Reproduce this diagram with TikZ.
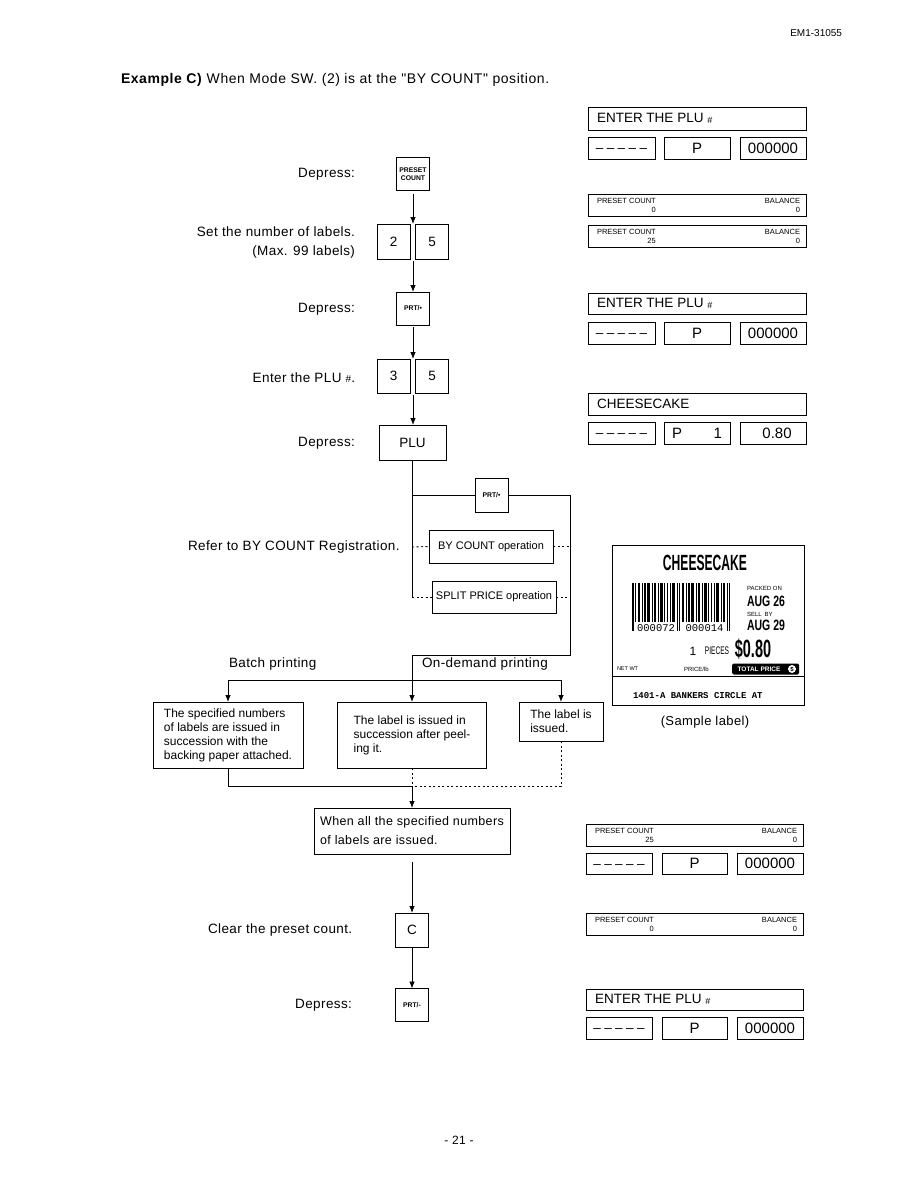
\documentclass[tikz,border=0pt]{standalone}
\usepackage{fontspec}
\setmainfont{Liberation Sans}
\newfontfamily\spc{Liberation Sans}[LetterSpace=3]
\newfontfamily\spcb{Liberation Sans}[LetterSpace=4]
\newfontfamily\lmono{Liberation Mono}
\usepackage{graphicx}
\usetikzlibrary{arrows.meta}
\newcommand\fsz[2]{\fontsize{#1}{#2}\selectfont}
\newcommand\dsh{\vphantom{0}\textendash\hspace{3.4pt}\textendash\hspace{3.4pt}\textendash\hspace{3.4pt}\textendash\hspace{3.4pt}\textendash}
\newcommand\presetdisp[5]{%
  \node[disp,minimum width=#5,minimum height=22,anchor=north west] (#1) at (#2,#3) {};
  \node[stext,anchor=base west] (#1a) at ([shift={(9,9)}]#1.north west) {PRESET COUNT};
  \node[stext,anchor=base east] (#1b) at ([shift={(0,9)}]#1a.base east) {#4};
  \node[stext,anchor=base east] (#1c) at ([shift={(-6,9)}]#1.north east) {BALANCE};
  \node[stext,anchor=base east] (#1d) at ([shift={(0,9)}]#1c.base east) {0};
}
\begin{document}
\begin{tikzpicture}[x=1pt,y=-1pt,
  every node/.style={inner sep=0pt,outer sep=0pt},
  lab/.style={font=\spc\fsz{13.5}{16}},
  keybox/.style={draw,line width=0.7pt,minimum width=33,minimum height=33,font=\fsz{13.5}{15}},
  smallkey/.style={keybox,font=\fsz{6.8}{8}\bfseries,align=center},
  flow/.style={line width=0.8pt},
  arr/.style={flow,-{Latex[length=7pt,width=5.5pt]}},
  dotl/.style={line width=0.9pt,dash pattern=on 2pt off 2.5pt},
  disp/.style={draw,line width=0.9pt},
  dtext/.style={font=\fsz{13.5}{15}},
  dnum/.style={font=\fsz{15}{16}},
  stext/.style={font=\fsz{7.5}{8}},
  fbox/.style={draw,line width=0.7pt,align=left,font=\fsz{12}{14}},
  opbox/.style={draw,line width=0.7pt,minimum width=124,font=\fsz{11}{13}},
]
\useasboundingbox (0,0) rectangle (918,1188);
\fill[white] (0,0) rectangle (918,1188);

% header
\node[anchor=east,font=\fsz{10}{11}] (docno) at (842,33) {EM1-31055};
\node[anchor=west,font=\spcb\fsz{14}{16}] (title) at (121,80) {\textbf{Example C)} When Mode SW. (2) is at the "BY COUNT" position.};

% key sequence
\node[smallkey] (kpc) at (413,174) {PRESET\\COUNT};
\node[keybox,minimum height=35] (k2) at (393.5,241.5) {2};
\node[keybox,minimum height=35] (k5) at (432,241.5) {5};
\coordinate (g25t) at (413,224);
\coordinate (g25b) at (413,259);
\node[smallkey] (kprt1) at (413,308.5) {PRT/\textbullet};
\node[keybox,minimum height=34] (k3) at (393.5,376) {3};
\node[keybox,minimum height=34] (k5b) at (432,376) {5};
\coordinate (g35t) at (413,359);
\coordinate (g35b) at (413,393);
\node[keybox,minimum width=67,minimum height=35] (kplu) at (412.5,442.5) {PLU};

\draw[arr,shorten <=3pt] (kpc.south) -- (g25t);
\draw[arr,shorten <=2pt] (g25b) -- (kprt1.north);
\draw[arr,shorten <=2pt] (kprt1.south) -- (g35t);
\draw[arr,shorten <=2pt] (g35b) -- (kplu.north -| g35b);

\node[lab,anchor=east] (t1) at (355,174) {Depress:};
\node[lab,anchor=east] (t2) at (355,232) {Set the number of labels.};
\node[lab,anchor=east] (t3) at (355,252) {(Max. 99 labels)};
\node[lab,anchor=east] (t4) at (355,309) {Depress:};
\node[lab,anchor=east] (t5) at (355,378) {Enter the PLU {\fsz{10}{10}\#}.};
\node[lab,anchor=east] (t6) at (355,443) {Depress:};

% branch
\coordinate (j1) at (412,495);
\coordinate (j2) at (412,547);
\coordinate (j3) at (412,597);
\coordinate (r1) at (570,495);
\coordinate (r2) at (570,655);
\coordinate (m1) at (412,655);
\coordinate (m2) at (412,680);
\node[smallkey,minimum height=34] (kprt2) at (491.5,495) {PRT/\textbullet};
\node[opbox,minimum height=33] (byc) at (491,546.5) {BY COUNT operation};
\node[opbox,minimum height=32] (spl) at (494,597) {SPLIT PRICE opreation};
\draw[flow] (kplu.south -| j3) -- (j3);
\draw[flow] (j1) -- (kprt2.west);
\draw[flow] (kprt2.east) -- (r1) -- (r2) -- (m1) -- (m2);
\draw[dotl] (j2) -- (byc.west);
\draw[dotl] (j3) -- (spl.west);
\draw[dotl] (byc.east) -- (byc.east -| r1);
\draw[dotl] (spl.east) -- (spl.east -| r1);

\node[lab,anchor=west] (t7) at (188,547) {Refer to BY COUNT Registration.};
\node[lab,anchor=west] (t8) at (229,664) {Batch printing};
\node[lab,anchor=west] (t9) at (422,664) {On-demand printing};

% result boxes
\node[fbox,minimum width=150,minimum height=66] (bx1) at (228,735) {The specified numbers\\of labels are issued in\\succession with the\\backing paper attached.};
\node[fbox,minimum width=149,minimum height=66] (bx2) at (412,735) {The label is issued in\\succession after peel-\\ing it.};
\node[fbox,minimum width=84,minimum height=39] (bx3) at (561,721.5) {The label is\\issued.};
\coordinate (m3) at (412,786);
\draw[flow] (bx1.north |- m2) -- (bx3.north |- m2);
\draw[arr] (m2) -- (bx2.north);
\draw[arr] (bx1.north |- m2) -- (bx1.north);
\draw[arr] (bx3.north |- m2) -- (bx3.north);
\draw[flow] (bx1.south) -- (bx1.south |- m3) -- (m3);
\draw[dotl] (bx2.south) -- (m3);
\draw[dotl] (bx3.south) -- (bx3.south |- m3) -- (m3);
\node[fbox,minimum width=196,minimum height=46,font=\spc\fsz{12.5}{19}] (bx4) at (412,831) {When all the specified numbers\\of labels are issued.};
\draw[arr] (m3) -- (bx4.north);

\node[keybox,minimum height=34] (kc) at (412,930) {C};
\node[smallkey] (kprt3) at (412,1005) {PRT/-};
\draw[arr,shorten <=8pt] (bx4.south) -- (kc.north);
\draw[arr] (kc.south) -- (kprt3.north);
\node[lab,anchor=west] (t10) at (208,930) {Clear the preset count.};
\node[lab,anchor=east] (t11) at (352,1005) {Depress:};

% right displays: group 1
\node[disp,minimum width=218,minimum height=23,anchor=north west] (dA) at (588,107) {};
\node[dtext,anchor=west] (dAt) at ([xshift=9]dA.west) {ENTER THE PLU \raisebox{-1pt}{\fsz{9}{9}\#}};
\node[disp,dtext,minimum width=67,minimum height=22,anchor=north west] (dA1) at (588,137) {\dsh};
\node[disp,dnum,minimum width=66,minimum height=22,anchor=north west] (dA2) at (664,137) {P};
\node[disp,dnum,minimum width=66,minimum height=22,anchor=north west] (dA3) at (740,137) {000000};

\presetdisp{dB}{588}{194}{0}{218}
\presetdisp{dC}{588}{225}{25}{218}

% group 2
\node[disp,minimum width=218,minimum height=21,anchor=north west] (dD) at (588,293) {};
\node[dtext,anchor=west] (dDt) at ([xshift=9]dD.west) {ENTER THE PLU \raisebox{-1pt}{\fsz{9}{9}\#}};
\node[disp,dtext,minimum width=67,minimum height=22,anchor=north west] (dD1) at (588,322) {\dsh};
\node[disp,dnum,minimum width=66,minimum height=22,anchor=north west] (dD2) at (664,322) {P};
\node[disp,dnum,minimum width=66,minimum height=22,anchor=north west] (dD3) at (740,322) {000000};

% group 3
\node[disp,minimum width=218,minimum height=22,anchor=north west] (dE) at (588,393) {};
\node[dtext,anchor=west] (dEt) at ([xshift=9]dE.west) {CHEESECAKE};
\node[disp,dtext,minimum width=67,minimum height=22,anchor=north west] (dE1) at (588,422) {\dsh};
\node[disp,minimum width=66,minimum height=22,anchor=north west] (dE2) at (664,422) {};
\node[dnum,anchor=west] (dE2a) at (672,433) {P};
\node[dnum,anchor=east] (dE2b) at (722,433) {1};
\node[disp,minimum width=66,minimum height=22,anchor=north west] (dE3) at (740,422) {};
\node[dnum] (dE3a) at (777,433) {0.80};

% sample label
\node[draw,line width=0.9pt,minimum width=192,minimum height=160] (slab) at (708,625) {};
\node (lname) at (705,563) {\scalebox{0.55}[1]{\fsz{22}{22}\bfseries CHEESECAKE}};
\foreach \x/\w in {2.8/1.2,5.5/2.4,9.5/1,12/1.6,15/3,19.5/1,22/2,25.5/1.2,28/2.6,32/1,34.5/1.6,37.5/1,40/2.8,49.5/2.4,53.5/1,56/1.6,59/3,63.5/1,66/2,69.5/1.2,72/2.6,76/1,78.5/1.6,81.5/1,84/2.8,88.5/1.2,91/2}
  \fill[black] (632+\x,583) rectangle ++(\w,39);
\foreach \x/\w in {0/1.5,44.5/1.2,47/1.2,94.5/1.2,97/1.2}
  \fill[black] (632+\x,583) rectangle ++(\w,48);
\node[font=\lmono\fsz{10.5}{11}] (bc1) at (656,628) {000072};
\node[font=\lmono\fsz{10.5}{11}] (bc2) at (704.5,628) {000014};
\node[anchor=west,font=\fsz{6}{6}] (pk) at (747,588) {PACKED ON};
\node[anchor=west] (pd) at (747,601) {\scalebox{0.7}[1]{\fsz{15}{15}\bfseries AUG 26}};
\node[anchor=west,font=\fsz{6}{6}] (sb) at (747,614) {SELL\enspace BY};
\node[anchor=west] (sd) at (747,625) {\scalebox{0.7}[1]{\fsz{15}{15}\bfseries AUG 29}};
\node[font=\fsz{12}{12}] (pc) at (693,651) {1};
\node (pcs) at (717,651) {\scalebox{0.6}[1]{\fsz{11}{11}PIECES}};
\node (prc) at (753,649) {\scalebox{0.58}[1]{\fsz{25}{25}\bfseries\$0.80}};
\node[anchor=west,font=\fsz{5.5}{6}] (nw) at (617,669) {NET WT};
\node[anchor=west,font=\fsz{6}{6}] (ppl) at (684,669) {PRICE/lb};
\node[fill=black,rounded corners=1.5pt,minimum width=67,minimum height=11] (tp) at (765.5,669) {};
\node[text=white,font=\fsz{6.5}{7}\bfseries] (tpt) at (759,669) {TOTAL PRICE};
\node[circle,fill=white,minimum size=8,font=\fsz{6}{6}\bfseries] (tpc) at (792,669) {\$};
\draw[line width=0.8pt] (slab.west |- tp.south) ++(0,2) coordinate (sl1) -- (sl1 -| slab.east);
\node[anchor=west,font=\lmono\bfseries\fsz{9}{9}] (addr) at (633,696) {1401-A BANKERS CIRCLE AT};
\node[font=\spc\fsz{13}{15}] (sltxt) at (705,722) {(Sample label)};

% group 4
\presetdisp{dF}{586}{824}{25}{217}
\node[disp,dtext,minimum width=66,minimum height=21,anchor=north west] (dF1) at (586,853) {\dsh};
\node[disp,dnum,minimum width=65,minimum height=21,anchor=north west] (dF2) at (662,853) {P};
\node[disp,dnum,minimum width=66,minimum height=21,anchor=north west] (dF3) at (737,853) {000000};

% group 5
\presetdisp{dG}{586}{913}{0}{217}

% group 6
\node[disp,minimum width=217,minimum height=21,anchor=north west] (dH) at (586,989) {};
\node[dtext,anchor=west] (dHt) at ([xshift=9]dH.west) {ENTER THE PLU \raisebox{-1pt}{\fsz{9}{9}\#}};
\node[disp,dtext,minimum width=66,minimum height=22,anchor=north west] (dH1) at (586,1017) {\dsh};
\node[disp,dnum,minimum width=65,minimum height=22,anchor=north west] (dH2) at (662,1017) {P};
\node[disp,dnum,minimum width=66,minimum height=22,anchor=north west] (dH3) at (737,1017) {000000};

% page number
\node[font=\spc\fsz{12}{14}] (pgno) at (459,1140) {- 21 -};
\end{tikzpicture}
\end{document}
